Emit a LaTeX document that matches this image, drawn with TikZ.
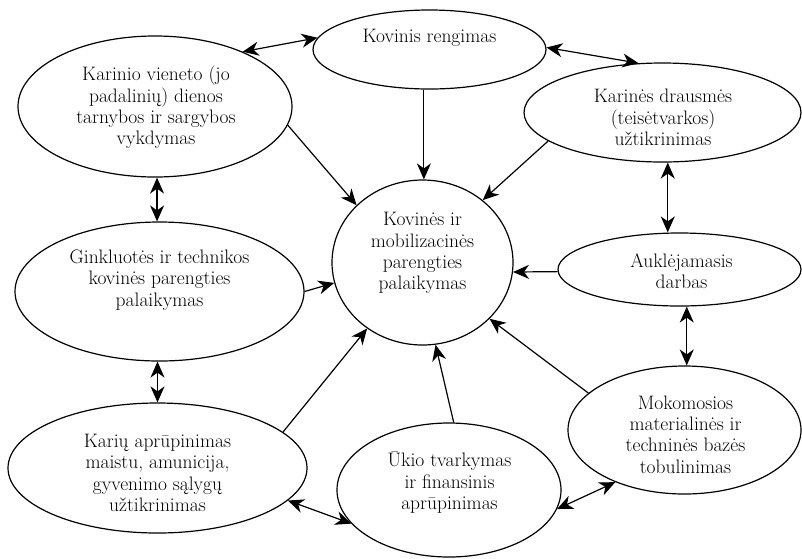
\documentclass[tikz,border=0pt]{standalone}
\usepackage{fontspec}
\usetikzlibrary{arrows.meta,shapes.geometric}
\begin{document}
\begin{tikzpicture}[x=1pt,y=-1pt,
  blob/.style={draw, ellipse, line width=1.2pt, inner sep=0pt},
  lbl/.style={align=center, font=\fontsize{19.5}{21.3}\selectfont, inner sep=0pt},
  link/.style={line width=1.2pt},
  >={Stealth[length=16pt,width=14pt,inset=5pt]}]
\useasboundingbox (0,0) rectangle (802,558);

% ellipses
\node[blob, minimum width=233pt, minimum height=79pt]  (A) at (429.5,49.5) {};
\node[blob, minimum width=274pt, minimum height=141pt] (B) at (155,106.5) {};
\node[blob, minimum width=277pt, minimum height=99pt]  (C) at (662.5,112.5) {};
\node[blob, minimum width=181pt, minimum height=165pt] (D) at (422.5,262.5) {};
\node[blob, minimum width=289pt, minimum height=139pt] (E) at (159.5,291.5) {};
\node[blob, minimum width=243pt, minimum height=73pt]  (F) at (679.5,269.5) {};
\node[blob, minimum width=299pt, minimum height=130pt] (G) at (157.5,468) {};
\node[blob, minimum width=224pt, minimum height=134pt] (H) at (449,490) {};
\node[blob, minimum width=233pt, minimum height=128pt] (I) at (684.5,430) {};

% labels
\node[lbl] (tA) at (429.5,38) {Kovinis rengimas};
\node[lbl] (tB) at (156,107.5) {Karinio vieneto (jo\\padalinių) dienos\\tarnybos ir sargybos\\vykdymas};
\node[lbl] (tC) at (663,117.5) {Karinės drausmės\\(teisėtvarkos)\\užtikrinimas};
\node[lbl] (tD) at (422.5,253) {Kovinės ir\\mobilizacinės\\parengties\\palaikymas};
\node[lbl] (tE) at (159.5,280) {Ginkluotės ir technikos\\kovinės parengties\\palaikymas};
\node[lbl] (tF) at (681.5,271) {Auklėjamasis\\darbas};
\node[lbl] (tG) at (157.5,473) {Karių aprūpinimas\\maistu, amunicija,\\gyvenimo sąlygų\\užtikrinimas};
\node[lbl] (tH) at (449.5,482.5) {Ūkio tvarkymas\\ir finansinis\\aprūpinimas};
\node[lbl] (tI) at (685.5,434.5) {Mokomosios\\materialinės ir\\techninės bazės\\tobulinimas};

% two-way links between neighbouring activities
\draw[link,<->] (B.32.7) -- (A.174.1);
\draw[link,<->] (A.1.2) -- (C.116.3);
\draw[link,<->] (E.92) -- (E.92 |- B.south);
\draw[link,<->] (C.276) -- (C.276 |- F.north);
\draw[link,<->] (G.north) -- (G.north |- E.south);
\draw[link,<->] (I.88) -- (I.88 |- F.south);
\draw[link,<->] (G.-14.4) -- (H.199.5);
\draw[link,<->] (H.-10.5) -- (I.217.3);

% contributions to the central goal
\draw[link,->] (A.262) -- (A.262 |- D.north);
\draw[link,->] (B.-8.8) -- (D.139.8);
\draw[link,->] (C.194.3) -- (D.46.8);
\draw[link,->] (E.-0.6) -- (D.193.5);
\draw[link,->] (F.181.6) -- (D.-6);
\draw[link,->] (G.16.6) -- (D.230.6);
\draw[link,->] (H.86.6) -- (D.279);
\draw[link,->] (I.159) -- (D.-40.4);
\end{tikzpicture}
\end{document}
